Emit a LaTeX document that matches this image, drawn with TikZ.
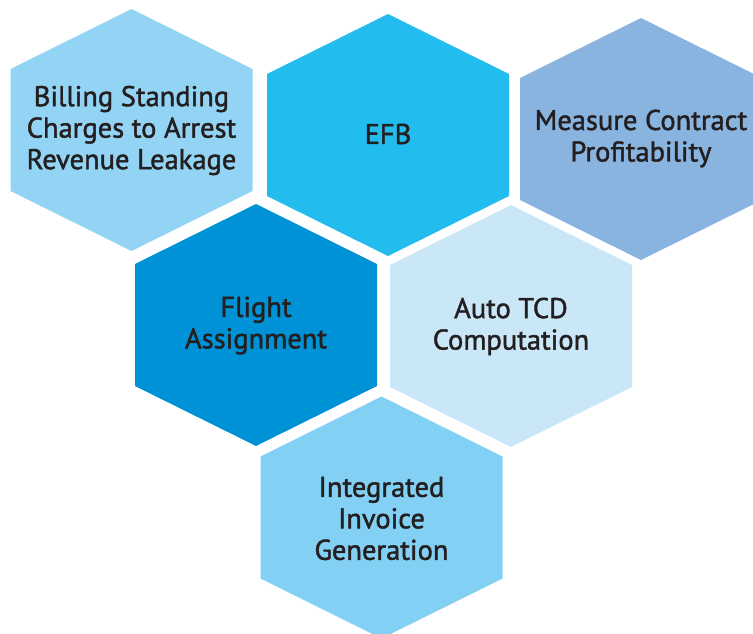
\documentclass[tikz,border=0pt]{standalone}
\usepackage{fontspec}
\newfontfamily\hexfont{PT Sans}[UprightFeatures={FakeBold=1.5}]
\usetikzlibrary{backgrounds}
\definecolor{billc}{HTML}{93D4F5}
\definecolor{efbc}{HTML}{22BCEE}
\definecolor{measc}{HTML}{8AB4E0}
\definecolor{flightc}{HTML}{0092D6}
\definecolor{autoc}{HTML}{CAE7F8}
\definecolor{invc}{HTML}{82D0F4}
\definecolor{inkc}{HTML}{231F20}
\tikzstyle{hexa} = [align=center, text=inkc, font=\hexfont\fontsize{28.5}{31.5}\selectfont]

\begin{document}
\begin{tikzpicture}[x=1pt, y=-1pt]
\useasboundingbox (0,0) rectangle (753,633);
\node (bill)[hexa] at (131.5,130.5) {Billing Standing\\Charges to Arrest\\Revenue Leakage};
\node (efb)[hexa] at (388,134) {EFB};
\node (meas)[hexa] at (641,138.5) {Measure Contract\\Profitability};
\node (flight)[hexa] at (256,325.5) {Flight\\Assignment};
\node (auto)[hexa] at (511,326.5) {Auto TCD\\Computation};
\node (inv)[hexa] at (381.5,518.5) {Integrated\\Invoice\\Generation};

\begin{pgfonlayer}{background}
\foreach \n/\c/\yo in {bill/billc/-0.5, efb/efbc/1, meas/measc/0.5, flight/flightc/-0.5, auto/autoc/-0.5, inv/invc/-1}
  \fill[\c] (\n) ++(0,\yo) +(0,-121) -- +(121,-61) -- +(121,61) -- +(0,121) -- +(-121,61) -- +(-121,-61) -- cycle;
\end{pgfonlayer}
\end{tikzpicture}
\end{document}
